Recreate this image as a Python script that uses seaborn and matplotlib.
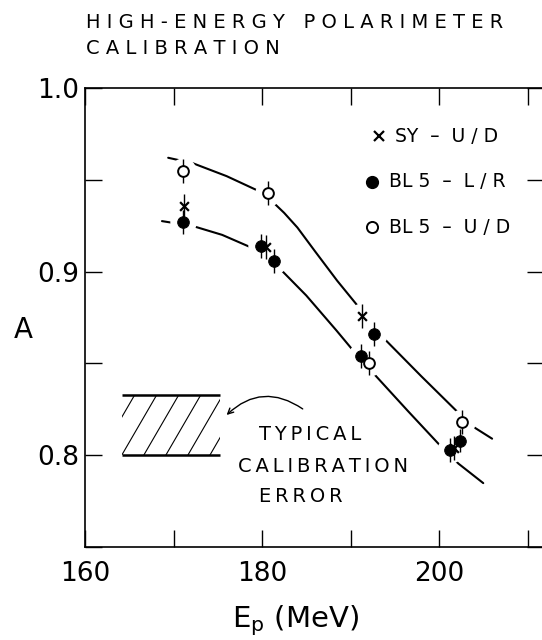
import matplotlib
matplotlib.use("Agg")
import matplotlib.pyplot as plt
import seaborn as sns
from matplotlib.patches import Rectangle
from matplotlib.ticker import MultipleLocator

# ------------------------------------------------------------
# data
# ------------------------------------------------------------
sy_ud_e = [171.2, 180.5, 191.3, 201.7]
sy_ud_a = [0.936, 0.9135, 0.876, 0.804]

bl5_lr_e = [171.1, 179.85, 181.3, 191.2, 192.7, 201.2, 202.4]
bl5_lr_a = [0.927, 0.914, 0.906, 0.854, 0.866, 0.803, 0.808]

bl5_ud_e = [171.1, 180.7, 192.1, 202.6]
bl5_ud_a = [0.955, 0.943, 0.850, 0.818]

err_a = 0.0065

# hand-drawn guide curves
upper_e = [169.4, 172.2, 176.0, 179.8, 181.2, 182.5, 184.0, 186.0, 188.5, 190.7, 193.7, 198.0, 202.0, 203.7, 206.0]
upper_a = [0.962, 0.959, 0.952, 0.9435, 0.938, 0.932, 0.924, 0.911, 0.895, 0.882, 0.864, 0.843, 0.824, 0.816, 0.809]
lower_e = [168.7, 172.2, 175.5, 178.6, 182.0, 185.0, 188.4, 190.3, 192.8, 196.5, 200.1, 202.2, 205.0]
lower_a = [0.9275, 0.9248, 0.920, 0.9135, 0.9017, 0.887, 0.868, 0.857, 0.8435, 0.824, 0.8054, 0.7954, 0.7848]

# typical calibration error box
box_e = [164.15, 175.2]
box_a = [0.800, 0.8328]

x_ticks = [160, 180, 200]
y_ticks = [0.8, 0.9, 1.0]
y_ticklabels = ["0.8", "0.9", "1.0"]


def track(s, gap=" "):
    # wide letter spacing like the lettering set
    return gap.join(s)


# ------------------------------------------------------------
# style
# ------------------------------------------------------------
sns.set_style("ticks")
plt.rcParams["font.family"] = ["DejaVu Sans"]
plt.rcParams["mathtext.default"] = "regular"
plt.rcParams["text.color"] = "black"
plt.rcParams["axes.labelcolor"] = "black"
plt.rcParams["xtick.color"] = "black"
plt.rcParams["ytick.color"] = "black"
plt.rcParams["axes.edgecolor"] = "black"

fig = plt.figure(figsize=(5.42, 6.4), dpi=100)
ax = fig.add_axes([85 / 542, 93 / 640, 459 / 542, 459 / 640])

# curves
sns.lineplot(x=upper_e, y=upper_a, ax=ax, color="black", lw=1.5, sort=False, estimator=None, zorder=1)
sns.lineplot(x=lower_e, y=lower_a, ax=ax, color="black", lw=1.5, sort=False, estimator=None, zorder=1)

# white gaps around points (the curves are broken at each point)
all_e = sy_ud_e + bl5_lr_e + bl5_ud_e
all_a = sy_ud_a + bl5_lr_a + bl5_ud_a
sns.scatterplot(x=all_e, y=all_a, ax=ax, s=19 ** 2, color="white", linewidth=0, zorder=2)

# error bars
ax.errorbar(all_e, all_a, yerr=err_a, fmt="none", ecolor="black", elinewidth=1.0, zorder=3)

# points
sns.scatterplot(x=sy_ud_e, y=sy_ud_a, ax=ax, marker="x", s=40, color="black", linewidth=1.6, zorder=4)
sns.scatterplot(x=bl5_lr_e, y=bl5_lr_a, ax=ax, marker="o", s=70, color="black", edgecolor="black", zorder=5)
sns.scatterplot(x=bl5_ud_e, y=bl5_ud_a, ax=ax, marker="o", s=60, color="white", edgecolor="black",
                linewidth=1.4, zorder=5)

# hatched error box
clip = Rectangle((box_e[0], box_a[0]), box_e[1] - box_e[0], box_a[1] - box_a[0],
                 fill=False, lw=0, transform=ax.transData)
ax.add_patch(clip)
spacing = 2.49
run = 3.95
for k in range(-2, 6):
    x_b = box_e[0] + k * spacing
    ln, = ax.plot([x_b, x_b + run], [box_a[0], box_a[1]], color="black", lw=0.8, zorder=2)
    ln.set_clip_path(clip)
ax.hlines(box_a, box_e[0], box_e[1], color="black", lw=1.8, zorder=2)

ax.annotate("", xy=(176.0, 0.8219), xytext=(184.6, 0.8252),
            arrowprops=dict(arrowstyle="->", color="black", lw=1.0,
                            connectionstyle="arc3,rad=0.4", shrinkA=0, shrinkB=0))
ax.text(0.379, 0.245, track("TYPICAL", "\u2009"), transform=ax.transAxes,
        fontsize=14, va="center", ha="left")
ax.text(0.333, 0.175, track("CALIBRATION", "\u2009"), transform=ax.transAxes,
        fontsize=14, va="center", ha="left")
ax.text(0.379, 0.109, track("ERROR", "\u2009"), transform=ax.transAxes,
        fontsize=14, va="center", ha="left")

# legend drawn by hand
ax.plot([0.640], [0.895], transform=ax.transAxes, marker="x", ms=6.5, mew=1.6, color="black", ls="none")
ax.plot([0.625], [0.796], transform=ax.transAxes, marker="o", ms=8.5, color="black", ls="none")
ax.plot([0.625], [0.697], transform=ax.transAxes, marker="o", ms=8, mfc="white", mec="black", mew=1.4, ls="none")
ax.text(0.676, 0.895, "SY  \u2013  U / D", transform=ax.transAxes, fontsize=13.5, va="center")
ax.text(0.662, 0.796, "BL 5  \u2013  L / R", transform=ax.transAxes, fontsize=13.5, va="center")
ax.text(0.662, 0.697, "BL 5  \u2013  U / D", transform=ax.transAxes, fontsize=13.5, va="center")

# axes
ax.set_xlim(160, 160 + 459 / 8.85)
ax.set_ylim(0.75, 1.0)
ax.set_xticks(x_ticks)
ax.set_yticks(y_ticks)
ax.set_yticklabels(y_ticklabels)
ax.xaxis.set_minor_locator(MultipleLocator(10))
ax.yaxis.set_minor_locator(MultipleLocator(0.05))
ax.tick_params(which="both", direction="in", length=12, width=1.0, top=True, right=True,
               labelsize=19, color="black")
ax.tick_params(axis="x", pad=10)
ax.tick_params(axis="y", pad=4)
for sp in ax.spines.values():
    sp.set_visible(True)
    sp.set_linewidth(1.2)
    sp.set_color("black")

ax.text(-0.135, 0.455, "A", transform=ax.transAxes, fontsize=20, ha="center", va="baseline")
ax.text(0.4575, -0.174, "E$_p$ (MeV)", transform=ax.transAxes, fontsize=21, ha="center", va="baseline")

fig.text(86 / 542, 1 - 22.7 / 640, track("HIGH-ENERGY POLARIMETER"), fontsize=14, va="center", ha="left")
fig.text(86 / 542, 1 - 48 / 640, track("CALIBRATION"), fontsize=14, va="center", ha="left")

fig.savefig("out.png", dpi=100)
